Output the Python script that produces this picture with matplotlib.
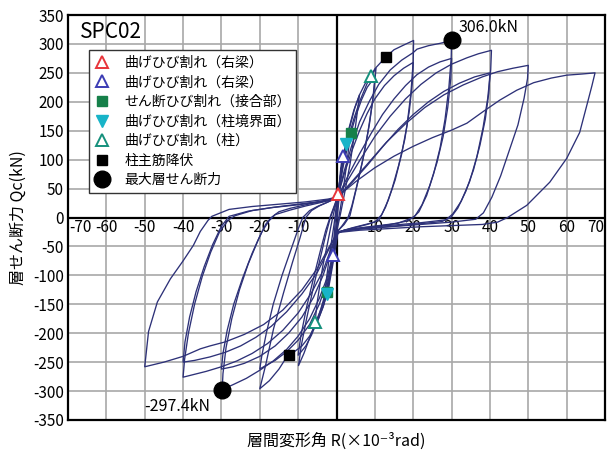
import matplotlib
matplotlib.use("Agg")
import matplotlib.pyplot as plt
from matplotlib.lines import Line2D

# ---------------- data ----------------
title = "SPC02"
x_ticks = [-70, -60, -50, -40, -30, -20, -10, 10, 20, 30, 40, 50, 60, 70]
y_ticks = [350, 300, 250, 200, 150, 100, 50, 0, -50, -100, -150, -200, -250, -300, -350]

# hysteresis cycles: R (x10^-3 rad), Q (kN)
c1_R = [0, 0.5, 1.0, 1.6, 1.2, 0.7, 0.2, -0.3, -0.8, -1.2, -0.8, -0.3, 0.2]
c1_Q = [0, 40, 78, 112, 75, 35, 0, -30, -64, -85, -45, -5, 30]

c2_R = [0.2, 1.0, 1.8, 2.6, 3.7, 3.0, 2.0, 1.0, 0.2, -0.6, -1.6, -2.6, -3.3, -2.6, -1.6, -0.6, 0.2]
c2_Q = [30, 70, 107, 127, 150, 110, 60, 15, -15, -55, -95, -128, -150, -105, -55, -10, 32]

c3_R = [0.2, 1.2, 2.4, 3.6, 4.8, 6.0, 5.0, 3.6, 2.2, 1.0, 0.2, -0.8, -2.0, -3.3, -4.5, -5.8,
        -5.0, -3.6, -2.2, -1.0, 0.2]
c3_Q = [32, 80, 125, 160, 190, 212, 160, 95, 45, 5, -20, -65, -115, -150, -172, -192,
        -145, -85, -40, 0, 34]

c10a_R = [0.2, 1.5, 3.0, 4.5, 6.0, 7.5, 8.9, 10.3, 9.7, 8.6, 7.2, 5.7, 4.4, 3.5, 2.0, 0.5,
          -0.5, -1.5, -2.6, -4.0, -5.5, -7.0, -8.5, -9.9, -9.2, -7.8, -6.0, -4.3, -2.8, -1.6, -0.6, 0.3]
c10a_Q = [32, 95, 148, 185, 212, 232, 244, 258, 215, 162, 110, 65, 28, 3, -12, -22,
          -55, -95, -130, -158, -182, -208, -235, -256, -222, -175, -120, -72, -30, 0, 18, 36]

c10b_R = [0.3, 1.8, 3.5, 5.0, 6.5, 8.0, 9.0, 10.0, 9.4, 8.2, 6.8, 5.3, 4.0, 3.0, 1.5, 0.3,
          -0.7, -2.0, -3.5, -5.0, -6.5, -8.0, -9.2, -10.0, -9.3, -7.8, -6.0, -4.3, -2.8, -1.6, 0.3]
c10b_Q = [35, 90, 140, 175, 203, 225, 234, 240, 200, 148, 98, 55, 20, 0, -14, -24,
          -60, -105, -145, -178, -203, -222, -232, -238, -205, -155, -105, -60, -22, 2, 36]

c20a_R = [0.3, 1.5, 3, 4.5, 6, 8, 10, 12.8, 15, 17.5, 20.1,
          20.0, 19.4, 18.4, 17.0, 15.3, 13.5, 11.8, 10.0, 7, 4, 1.5, 0.3,
          -0.8, -2, -3.5, -5, -7, -9, -11, -12.5, -15, -17.5, -20,
          -19.4, -18.5, -16.4, -13.8, -11.5, -9.5, -8.0, -6.5, -4.5, -2.5, -0.5, 0.3]
c20a_Q = [35, 85, 135, 170, 200, 232, 257, 277, 290, 298, 306,
          270, 215, 160, 110, 65, 30, 5, -8, -13, -18, -23, -28,
          -75, -120, -155, -180, -205, -222, -232, -236, -262, -282, -296,
          -280, -256, -192, -130, -78, -35, 0, 12, 20, 26, 32, 36]

c20b_R = [0.3, 2, 4, 6, 8, 10, 12.5, 15, 17.5, 20,
          19.8, 19.0, 17.8, 16.2, 14.5, 12.8, 11.0, 8, 5, 2, 0.3,
          -1, -2.5, -4.5, -7, -10, -13, -16, -18.5, -20,
          -19.5, -18.3, -16.5, -14.2, -12, -10, -8.8, -7, -5, -2.5, -0.3]
c20b_Q = [36, 75, 115, 150, 180, 205, 228, 245, 258, 268,
          235, 185, 135, 90, 50, 18, -5, -12, -17, -22, -27,
          -70, -112, -150, -185, -212, -232, -247, -256, -262,
          -240, -200, -150, -100, -58, -20, 0, 12, 19, 26, 33]

c30a_R = [0.3, 2, 4, 6, 8.5, 11, 14, 17, 20, 21, 24, 27, 30,
          29.9, 29.3, 28.3, 27, 25.3, 23.5, 21.5, 20, 16, 11, 6, 2, 0.3,
          -1, -2.5, -4.5, -7, -10, -13, -16.5, -20, -23.5, -27, -29.8,
          -29.6, -28.8, -27.3, -25.3, -23, -20.5, -18.5, -17, -15, -12, -8, -4, -0.3]
c30a_Q = [36, 80, 125, 165, 200, 230, 255, 272, 285, 291, 297, 301, 306,
          275, 225, 170, 120, 75, 38, 10, 0, -10, -14, -18, -22, -26,
          -65, -105, -140, -175, -205, -228, -248, -264, -278, -289, -297.4,
          -270, -225, -175, -125, -80, -40, -12, 0, 10, 16, 22, 28, 34]

c30b_R = [0.3, 3, 6, 9, 12, 15, 18, 21, 24, 27, 30,
          29.8, 29.0, 27.8, 26.2, 24.3, 22.3, 20.5, 18.5, 14, 9, 4, 0.3,
          -1.5, -3.5, -6, -9, -12.5, -16, -20, -24, -27, -30,
          -29.6, -28.5, -26.8, -24.5, -22, -19.5, -17.5, -16, -12, -8, -4, -0.3]
c30b_Q = [35, 72, 110, 145, 178, 205, 228, 247, 260, 269, 275,
          240, 190, 140, 95, 55, 22, 3, -6, -12, -17, -21, -25,
          -60, -100, -138, -172, -200, -222, -240, -252, -258, -262,
          -235, -195, -150, -105, -62, -25, -5, 5, 13, 20, 26, 32]

c40a_R = [0.3, 3, 6, 10, 14, 18, 22, 26, 30, 34, 37, 40.4,
          40.2, 39.4, 38.2, 36.6, 34.7, 32.5, 30.3, 28.5, 22, 15, 8, 3, 0.3,
          -1.5, -3.5, -6.5, -10, -14, -18, -22, -26, -30, -34, -37, -40,
          -39.6, -38.6, -37, -35, -32.8, -30.5, -28.3, -26.5, -22, -16, -10, -4, -0.3]
c40a_Q = [35, 65, 98, 140, 175, 205, 230, 250, 265, 276, 283, 289,
          255, 205, 155, 105, 62, 28, 6, -4, -9, -13, -17, -21, -25,
          -55, -92, -130, -165, -195, -218, -235, -248, -258, -266, -271, -276,
          -245, -200, -150, -102, -60, -25, -5, 3, 12, 18, 23, 28, 33]

c40b_R = [0.3, 4, 8, 12, 16, 20, 24, 28, 32, 36, 40,
          39.7, 38.8, 37.4, 35.7, 33.7, 31.6, 29.8, 27.5, 20, 13, 6, 0.3,
          -2, -5, -9, -13, -17, -21, -25, -29, -33, -37, -40,
          -39.5, -38.3, -36.6, -34.5, -32.3, -30, -28, -23, -17, -10, -4, -0.3]
c40b_Q = [35, 60, 90, 122, 152, 178, 200, 218, 232, 243, 250,
          215, 170, 125, 82, 45, 16, 0, -7, -12, -16, -20, -25,
          -55, -95, -132, -163, -188, -207, -222, -233, -241, -247, -250,
          -215, -172, -128, -85, -47, -15, 2, 11, 17, 22, 27, 32]

c50_R = [0.3, 4, 8, 13, 18, 23, 28, 33, 38, 42, 46, 50,
         49.8, 48.9, 47.3, 45, 42.8, 40.5, 38.3, 36.3, 30, 22, 14, 6, 0.3,
         -2, -5, -9, -14, -19, -24, -29, -33, -35.5, -40, -45, -50,
         -49, -46.7, -43.3, -40, -37.3, -35.5, -33.5, -32.5, -28, -22, -15, -8, -2, 0.3]
c50_Q = [35, 62, 92, 130, 162, 190, 212, 229, 243, 252, 258, 263,
         240, 206, 160, 115, 72, 35, 8, -3, -8, -12, -16, -20, -25,
         -52, -88, -125, -160, -185, -202, -215, -222, -227, -240, -250, -258,
         -197, -146, -106, -75, -48, -24, -5, 2, 14, 19, 23, 27, 32, 36]

c68_R = [0.3, 5, 10, 15, 20, 25, 30, 34, 38, 42.6, 47, 51.4, 56, 60, 64, 67.4,
         66.6, 65.5, 63.4, 60, 55.6, 49.6, 44.6, 42, 38, 30, 22, 14, 6, 0.3]
c68_Q = [36, 62, 86, 106, 123, 138, 151, 163, 182, 203, 220, 233, 241, 246, 248, 250,
         228, 200, 147, 102, 61, 21, 0, -8, -12, -14, -16, -19, -22, -26]

cycles_R = [c1_R, c2_R, c3_R, c10a_R, c10b_R, c20a_R, c20b_R, c30a_R, c30b_R,
            c40a_R, c40b_R, c50_R, c68_R]
cycles_Q = [c1_Q, c2_Q, c3_Q, c10a_Q, c10b_Q, c20a_Q, c20b_Q, c30a_Q, c30b_Q,
            c40a_Q, c40b_Q, c50_Q, c68_Q]

# event markers
ev_labels = ["曲げひび割れ（右梁）", "曲げひび割れ（右梁）", "せん断ひび割れ（接合部）",
             "曲げひび割れ（柱境界面）", "曲げひび割れ（柱）", "柱主筋降伏", "最大層せん断力"]
ev_R = [[0.5], [1.8, -0.8], [3.7, -2.6], [2.6, -2.6], [8.9, -5.5], [12.8, -12.3], [30.0, -29.8]]
ev_Q = [[40], [107, -64], [146, -128], [127, -133], [244, -180], [277, -237], [306.0, -297.4]]
peak_texts = ["306.0kN", "-297.4kN"]
peak_text_pos_R = [31.9, -50.0]
peak_text_pos_Q = [329, -327]

xlabel = "層間変形角 R(×10⁻³rad)"
ylabel = "層せん断力 Qc(kN)"

# ---------------- styles ----------------
CJK = ["Noto Sans CJK JP", "DejaVu Sans"]
line_color = "#2d3178"
ev_styles = [
    dict(marker="^", mfc="white", mec="#e8343a", ms=9, mew=1.4),
    dict(marker="^", mfc="white", mec="#3c3cb4", ms=9, mew=1.4),
    dict(marker="s", mfc="#16804a", mec="#16804a", ms=7, mew=1.0),
    dict(marker="v", mfc="#18b4c8", mec="#18b4c8", ms=9, mew=1.0),
    dict(marker="^", mfc="white", mec="#15907c", ms=9, mew=1.4),
    dict(marker="s", mfc="black", mec="black", ms=7, mew=1.0),
    dict(marker="o", mfc="black", mec="black", ms=12, mew=1.0),
]

fig = plt.figure(figsize=(6.08, 4.51), dpi=100)
ax = fig.add_axes([68 / 608, 1 - 420 / 451, 537 / 608, 405 / 451])
ax.set_xlim(-70, 70)
ax.set_ylim(-350, 350)

ax.set_xticks(list(range(-70, 71, 10)))
ax.set_xticklabels([])
ax.set_yticks(y_ticks)
ax.set_yticklabels([str(v) for v in y_ticks], family=CJK, fontsize=11)
ax.tick_params(length=0, pad=3)
ax.grid(True, color="#a8a8a8", lw=1.2, zorder=0)
ax.set_axisbelow(True)
for s in ax.spines.values():
    s.set_linewidth(1.6)
    s.set_color("black")
ax.axhline(0, color="black", lw=1.6, zorder=1)
ax.axvline(0, color="black", lw=1.6, zorder=1)

for t in x_ticks:
    ha = "center"
    xx = t
    if t == -70:
        ha, xx = "left", -69.6
    elif t == 70:
        ha, xx = "right", 69.8
    ax.text(xx, -17, str(t), ha=ha, va="center", family=CJK, fontsize=11, zorder=2)

for R, Q in zip(cycles_R, cycles_Q):
    ax.plot(R, Q, color=line_color, lw=0.95, zorder=3, solid_joinstyle="round")

handles = []
for lab, R, Q, st in zip(ev_labels, ev_R, ev_Q, ev_styles):
    ax.plot(R, Q, ls="none", zorder=5, **st)
    handles.append(Line2D([], [], ls="none", **st))

leg = ax.legend(handles, ev_labels, loc="upper left", bbox_to_anchor=(0.04, 0.913),
                prop={"family": CJK, "size": 10}, frameon=True, fancybox=False,
                edgecolor="#333333", framealpha=1, handlelength=1.0, handletextpad=1.1,
                labelspacing=0.4, borderpad=0.4, borderaxespad=0)
leg.get_frame().set_linewidth(1.0)
leg.set_zorder(6)

ax.text(-66.8, 321, title, ha="left", va="center", family=CJK, fontsize=15, zorder=7)
for s, r, q in zip(peak_texts, peak_text_pos_R, peak_text_pos_Q):
    ax.text(r, q, s, ha="left", va="center", family=CJK, fontsize=11.5, zorder=7)

fig.text(336 / 608, 1 - 441 / 451, xlabel, ha="center", va="center", family=CJK, fontsize=11.5)
fig.text(18 / 608, 1 - 218 / 451, ylabel, ha="center", va="center", rotation=90,
         family=CJK, fontsize=11.5)

fig.savefig("out.png", dpi=100)
